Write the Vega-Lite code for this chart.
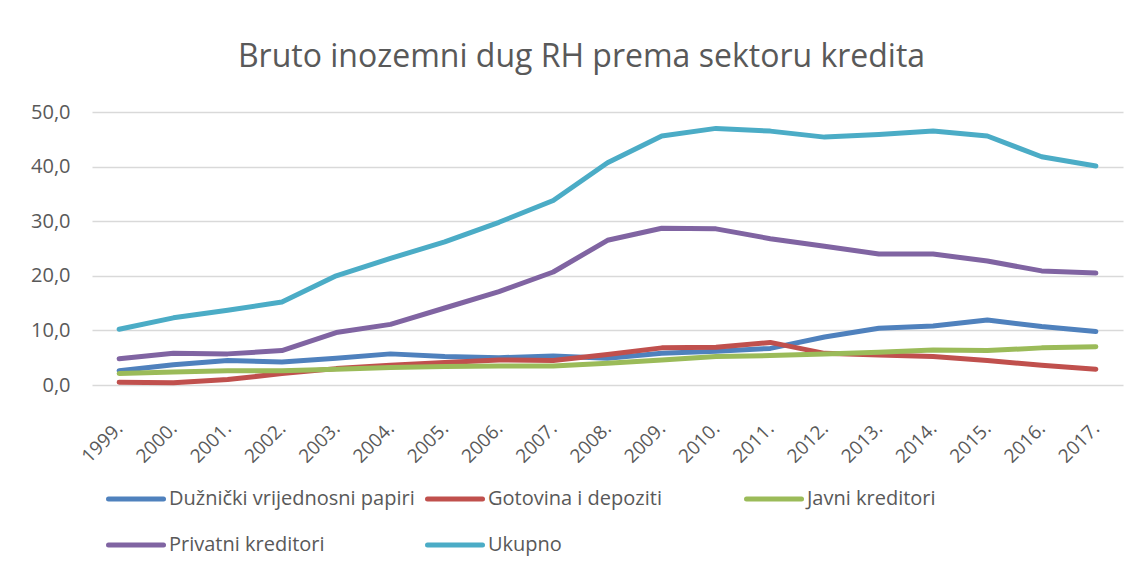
{
  "$schema": "https://vega.github.io/schema/vega-lite/v6.json",
  "width": 1031,
  "height": 273,
  "autosize": {"type": "none"},
  "padding": {"left": 92, "top": 112, "right": 16, "bottom": 187},
  "background": "white",
  "title": {
    "text": "Bruto inozemni dug RH prema sektoru kredita",
    "font": "Open Sans",
    "fontSize": 32,
    "fontWeight": "normal",
    "color": "#595959",
    "anchor": "middle",
    "offset": 28,
    "dx": -26
  },
  "data": {
    "values": [
      {"year": "1999.", "series": "Dužnički vrijednosni papiri", "value": 2.6},
      {"year": "2000.", "series": "Dužnički vrijednosni papiri", "value": 3.7},
      {"year": "2001.", "series": "Dužnički vrijednosni papiri", "value": 4.5},
      {"year": "2002.", "series": "Dužnički vrijednosni papiri", "value": 4.2},
      {"year": "2003.", "series": "Dužnički vrijednosni papiri", "value": 4.9},
      {"year": "2004.", "series": "Dužnički vrijednosni papiri", "value": 5.7},
      {"year": "2005.", "series": "Dužnički vrijednosni papiri", "value": 5.2},
      {"year": "2006.", "series": "Dužnički vrijednosni papiri", "value": 5.0},
      {"year": "2007.", "series": "Dužnički vrijednosni papiri", "value": 5.3},
      {"year": "2008.", "series": "Dužnički vrijednosni papiri", "value": 4.9},
      {"year": "2009.", "series": "Dužnički vrijednosni papiri", "value": 5.8},
      {"year": "2010.", "series": "Dužnički vrijednosni papiri", "value": 6.2},
      {"year": "2011.", "series": "Dužnički vrijednosni papiri", "value": 6.7},
      {"year": "2012.", "series": "Dužnički vrijednosni papiri", "value": 8.8},
      {"year": "2013.", "series": "Dužnički vrijednosni papiri", "value": 10.4},
      {"year": "2014.", "series": "Dužnički vrijednosni papiri", "value": 10.8},
      {"year": "2015.", "series": "Dužnički vrijednosni papiri", "value": 11.9},
      {"year": "2016.", "series": "Dužnički vrijednosni papiri", "value": 10.7},
      {"year": "2017.", "series": "Dužnički vrijednosni papiri", "value": 9.8},
      {"year": "1999.", "series": "Gotovina i depoziti", "value": 0.5},
      {"year": "2000.", "series": "Gotovina i depoziti", "value": 0.4},
      {"year": "2001.", "series": "Gotovina i depoziti", "value": 1.0},
      {"year": "2002.", "series": "Gotovina i depoziti", "value": 2.1},
      {"year": "2003.", "series": "Gotovina i depoziti", "value": 3.0},
      {"year": "2004.", "series": "Gotovina i depoziti", "value": 3.6},
      {"year": "2005.", "series": "Gotovina i depoziti", "value": 4.1},
      {"year": "2006.", "series": "Gotovina i depoziti", "value": 4.6},
      {"year": "2007.", "series": "Gotovina i depoziti", "value": 4.5},
      {"year": "2008.", "series": "Gotovina i depoziti", "value": 5.6},
      {"year": "2009.", "series": "Gotovina i depoziti", "value": 6.8},
      {"year": "2010.", "series": "Gotovina i depoziti", "value": 6.9},
      {"year": "2011.", "series": "Gotovina i depoziti", "value": 7.8},
      {"year": "2012.", "series": "Gotovina i depoziti", "value": 5.8},
      {"year": "2013.", "series": "Gotovina i depoziti", "value": 5.5},
      {"year": "2014.", "series": "Gotovina i depoziti", "value": 5.2},
      {"year": "2015.", "series": "Gotovina i depoziti", "value": 4.5},
      {"year": "2016.", "series": "Gotovina i depoziti", "value": 3.6},
      {"year": "2017.", "series": "Gotovina i depoziti", "value": 2.9},
      {"year": "1999.", "series": "Javni kreditori", "value": 2.1},
      {"year": "2000.", "series": "Javni kreditori", "value": 2.4},
      {"year": "2001.", "series": "Javni kreditori", "value": 2.6},
      {"year": "2002.", "series": "Javni kreditori", "value": 2.6},
      {"year": "2003.", "series": "Javni kreditori", "value": 2.9},
      {"year": "2004.", "series": "Javni kreditori", "value": 3.2},
      {"year": "2005.", "series": "Javni kreditori", "value": 3.4},
      {"year": "2006.", "series": "Javni kreditori", "value": 3.5},
      {"year": "2007.", "series": "Javni kreditori", "value": 3.5},
      {"year": "2008.", "series": "Javni kreditori", "value": 4.0},
      {"year": "2009.", "series": "Javni kreditori", "value": 4.6},
      {"year": "2010.", "series": "Javni kreditori", "value": 5.2},
      {"year": "2011.", "series": "Javni kreditori", "value": 5.4},
      {"year": "2012.", "series": "Javni kreditori", "value": 5.7},
      {"year": "2013.", "series": "Javni kreditori", "value": 6.0},
      {"year": "2014.", "series": "Javni kreditori", "value": 6.4},
      {"year": "2015.", "series": "Javni kreditori", "value": 6.3},
      {"year": "2016.", "series": "Javni kreditori", "value": 6.8},
      {"year": "2017.", "series": "Javni kreditori", "value": 7.0},
      {"year": "1999.", "series": "Privatni kreditori", "value": 4.8},
      {"year": "2000.", "series": "Privatni kreditori", "value": 5.8},
      {"year": "2001.", "series": "Privatni kreditori", "value": 5.7},
      {"year": "2002.", "series": "Privatni kreditori", "value": 6.3},
      {"year": "2003.", "series": "Privatni kreditori", "value": 9.6},
      {"year": "2004.", "series": "Privatni kreditori", "value": 11.1},
      {"year": "2005.", "series": "Privatni kreditori", "value": 14.1},
      {"year": "2006.", "series": "Privatni kreditori", "value": 17.1},
      {"year": "2007.", "series": "Privatni kreditori", "value": 20.7},
      {"year": "2008.", "series": "Privatni kreditori", "value": 26.5},
      {"year": "2009.", "series": "Privatni kreditori", "value": 28.7},
      {"year": "2010.", "series": "Privatni kreditori", "value": 28.6},
      {"year": "2011.", "series": "Privatni kreditori", "value": 26.8},
      {"year": "2012.", "series": "Privatni kreditori", "value": 25.4},
      {"year": "2013.", "series": "Privatni kreditori", "value": 24.0},
      {"year": "2014.", "series": "Privatni kreditori", "value": 24.0},
      {"year": "2015.", "series": "Privatni kreditori", "value": 22.7},
      {"year": "2016.", "series": "Privatni kreditori", "value": 20.9},
      {"year": "2017.", "series": "Privatni kreditori", "value": 20.5},
      {"year": "1999.", "series": "Ukupno", "value": 10.2},
      {"year": "2000.", "series": "Ukupno", "value": 12.3},
      {"year": "2001.", "series": "Ukupno", "value": 13.7},
      {"year": "2002.", "series": "Ukupno", "value": 15.2},
      {"year": "2003.", "series": "Ukupno", "value": 20.0},
      {"year": "2004.", "series": "Ukupno", "value": 23.2},
      {"year": "2005.", "series": "Ukupno", "value": 26.2},
      {"year": "2006.", "series": "Ukupno", "value": 29.8},
      {"year": "2007.", "series": "Ukupno", "value": 33.8},
      {"year": "2008.", "series": "Ukupno", "value": 40.7},
      {"year": "2009.", "series": "Ukupno", "value": 45.6},
      {"year": "2010.", "series": "Ukupno", "value": 47.0},
      {"year": "2011.", "series": "Ukupno", "value": 46.5},
      {"year": "2012.", "series": "Ukupno", "value": 45.4},
      {"year": "2013.", "series": "Ukupno", "value": 45.9},
      {"year": "2014.", "series": "Ukupno", "value": 46.5},
      {"year": "2015.", "series": "Ukupno", "value": 45.6},
      {"year": "2016.", "series": "Ukupno", "value": 41.8},
      {"year": "2017.", "series": "Ukupno", "value": 40.1}
    ]
  },
  "mark": {"type": "line", "strokeWidth": 5, "strokeCap": "round", "strokeJoin": "round"},
  "encoding": {
    "x": {
      "field": "year",
      "type": "ordinal",
      "scale": {"type": "point", "padding": 0.5},
      "axis": {
        "title": null,
        "labelAngle": -45,
        "labelAlign": "right",
        "labelBaseline": "middle",
        "labelPadding": 40,
        "labelFontSize": 19,
        "labelFont": "Open Sans",
        "labelColor": "#595959",
        "domain": false,
        "ticks": false,
        "grid": false
      }
    },
    "y": {
      "field": "value",
      "type": "quantitative",
      "scale": {"domain": [0, 50], "nice": false, "zero": true},
      "axis": {
        "title": null,
        "values": [0, 10, 20, 30, 40, 50],
        "labelExpr": "replace(format(datum.value, '.1f'), '.', ',')",
        "labelFontSize": 20,
        "labelFont": "Open Sans",
        "labelColor": "#595959",
        "labelPadding": 22,
        "domain": false,
        "ticks": false,
        "grid": true,
        "gridColor": "#D9D9D9",
        "gridWidth": 1.3
      }
    },
    "color": {
      "field": "series",
      "type": "nominal",
      "scale": {
        "domain": ["Dužnički vrijednosni papiri", "Gotovina i depoziti", "Javni kreditori", "Privatni kreditori", "Ukupno"],
        "range": ["#4F81BD", "#C0504D", "#9BBB59", "#8064A2", "#4BACC6"]
      },
      "legend": {
        "title": null,
        "orient": "bottom",
        "direction": "horizontal",
        "columns": 3,
        "gridAlign": "all",
        "symbolType": "stroke",
        "symbolSize": 3025,
        "symbolStrokeWidth": 5,
        "labelFont": "Open Sans",
        "labelFontSize": 20,
        "labelColor": "#595959",
        "labelOffset": 3,
        "labelLimit": 400,
        "rowPadding": 6,
        "columnPadding": 2,
        "offset": -12,
        "padding": 14,
        "encode": {"symbols": {"update": {"strokeCap": {"value": "round"}}}}
      }
    }
  },
  "config": {
    "view": {"stroke": null}
  }
}
